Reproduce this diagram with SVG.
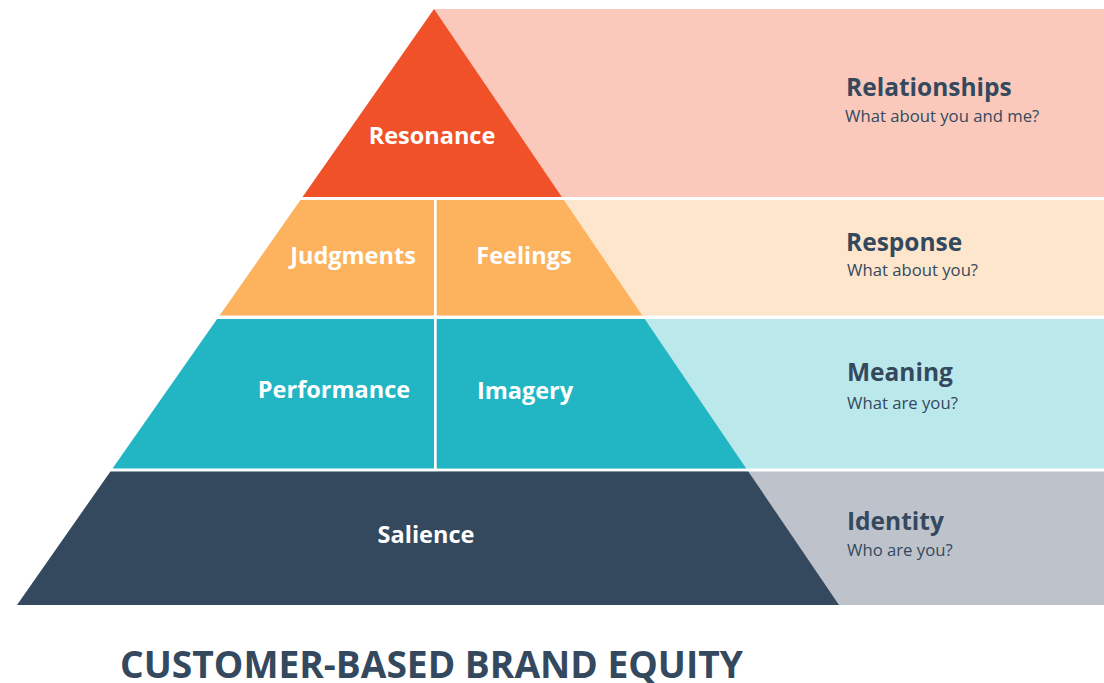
<svg xmlns="http://www.w3.org/2000/svg" width="1104" height="683" viewBox="0 0 1104 683">
<style>
.lbl{font-family:"Open Sans","Noto Sans","Liberation Sans",sans-serif;font-weight:700;font-size:23.5px;fill:#ffffff;text-anchor:middle}
.ttl{font-family:"Open Sans","Noto Sans","Liberation Sans",sans-serif;font-weight:700;font-size:24.5px;fill:#34495e}
.sub{font-family:"Open Sans","Noto Sans","Liberation Sans",sans-serif;font-weight:400;font-size:16.7px;fill:#34495e}
.head{font-family:"Open Sans","Noto Sans","Liberation Sans",sans-serif;font-weight:700;font-size:38px;fill:#34495e}
</style>
<rect width="1104" height="683" fill="#ffffff"/>
<g id="bands">
<rect x="434" y="9" width="670" height="188" fill="#fac9bb"/>
<rect x="436" y="200" width="668" height="115.5" fill="#fee6cc"/>
<rect x="436" y="319" width="668" height="149.5" fill="#bbe8eb"/>
<rect x="436" y="471.5" width="668" height="133.5" fill="#bec3cb"/>
</g>
<g id="node-resonance">
<polygon points="434,9 561.8,197 302.5,197" fill="#f15128"/>
<text class="lbl" x="432" y="144">Resonance</text>
</g>
<g id="node-judgments">
<polygon points="300.4,200 434,200 434,315.5 219.6,315.5" fill="#fdb35e"/>
<text class="lbl" x="353" y="264">Judgments</text>
</g>
<g id="node-feelings">
<polygon points="437,200 563.8,200 642.3,315.5 437,315.5" fill="#fdb35e"/>
<text class="lbl" x="524" y="264">Feelings</text>
</g>
<g id="node-performance">
<polygon points="217.1,319 434,319 434,468.5 112.5,468.5" fill="#22b5c3"/>
<text class="lbl" x="334" y="398">Performance</text>
</g>
<g id="node-imagery">
<polygon points="437,319 644.7,319 746.2,468.5 437,468.5" fill="#22b5c3"/>
<text class="lbl" x="525" y="399">Imagery</text>
</g>
<g id="node-salience">
<polygon points="110.4,471.5 748.3,471.5 839,605 17,605" fill="#35495e"/>
<text class="lbl" x="426" y="543">Salience</text>
</g>
<g id="node-relationships">
<text class="ttl" x="846" y="96">Relationships</text>
<text class="sub" x="845" y="122">What about you and me?</text>
</g>
<g id="node-response">
<text class="ttl" x="846" y="251">Response</text>
<text class="sub" x="847" y="276">What about you?</text>
</g>
<g id="node-meaning">
<text class="ttl" x="847" y="381">Meaning</text>
<text class="sub" x="847" y="409">What are you?</text>
</g>
<g id="node-identity">
<text class="ttl" x="847" y="530">Identity</text>
<text class="sub" x="847" y="556">Who are you?</text>
</g>
<g id="connectors"></g>
<text class="head" x="120" y="678" textLength="623" lengthAdjust="spacingAndGlyphs">CUSTOMER-BASED BRAND EQUITY</text>
</svg>
